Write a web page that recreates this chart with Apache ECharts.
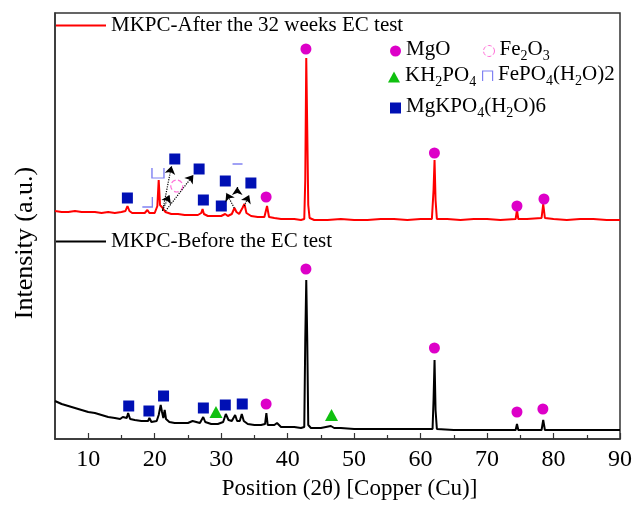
<!DOCTYPE html>
<html>
<head>
<meta charset="utf-8">
<script src="https://cdn.jsdelivr.net/npm/echarts@6/dist/echarts.min.js"></script>
<style>
  html, body { margin: 0; padding: 0; background: #fff; }
  #chart { width: 635px; height: 516px; }
</style>
</head>
<body>
<div id="chart"></div>
<script>
// XRD pattern after 32 weeks of EC testing: 2θ (deg) and intensity (a.u., stacked offset)
const afterTheta = [5, 6, 7, 8, 9, 10, 11, 12, 13, 14, 15, 15.6, 15.9, 16.2, 16.6, 17.5, 18.5, 18.9, 19.2, 20,
  20.4, 20.6, 20.8, 21, 21.2, 21.6, 22.5, 23.5, 24.5, 25.5, 26.5, 27, 27.2, 27.4, 28, 29, 30, 30.6, 31, 31.6,
  32, 32.3, 32.7, 33.2, 33.5, 33.8, 34.5, 35.5, 36.5, 36.9, 37.2, 38, 39, 40, 41, 42, 42.5, 42.65, 42.8, 42.95,
  43.1, 43.3, 44, 46, 48, 50, 52, 54, 56, 58, 60, 61.7, 61.95, 62.1, 62.25, 62.45, 64, 66, 68, 70,
  72, 74.3, 74.5, 74.7, 76, 78.2, 78.45, 78.7, 80, 82, 84, 86, 88, 90];
const afterInt = [228, 227, 227, 228, 227, 227, 227, 226, 227, 226, 227, 228, 233, 228, 226, 226, 226, 229, 226, 226,
  233, 259, 234, 236, 231, 227, 225, 225, 224, 224, 224, 226, 230, 225, 223, 223, 223, 225, 223, 225,
  231, 227, 225, 231, 235, 226, 223, 222, 222, 233, 222, 221, 220, 220, 220, 219, 220, 259, 381, 309,
  234, 221, 219, 219, 220, 219, 219, 220, 220, 219, 220, 220, 249, 279, 239, 220, 220, 219, 220, 220,
  219, 220, 229, 220, 220, 221, 235, 221, 220, 219, 220, 220, 219, 219];

// XRD pattern before EC testing
const beforeTheta = [5, 6, 7, 8, 9, 10, 11, 12, 13, 14, 14.8, 15.2, 15.5, 15.8, 16, 16.3, 17, 18, 19, 19.2,
  19.5, 20.3, 20.6, 20.9, 21.1, 21.3, 21.5, 21.7, 22.2, 23, 24, 25, 25.7, 26, 26.8, 27.3, 27.6, 28.5, 29.5, 30.3,
  30.7, 31.1, 31.6, 32.1, 32.4, 32.8, 33.1, 33.4, 33.7, 34, 35, 36, 36.6, 36.8, 37, 38, 38.4, 39, 40, 41,
  42, 42.5, 42.65, 42.8, 42.95, 43.1, 43.5, 44, 45, 46.5, 47, 48, 50, 52, 55, 58, 60, 61.8, 61.95, 62.1,
  62.25, 62.45, 65, 70, 74.3, 74.5, 74.7, 78.2, 78.45, 78.7, 82, 86, 90];
const beforeInt = [38, 35, 33, 31, 29, 27, 26, 24, 22, 21, 20, 22, 20, 21, 26, 20, 19, 18, 18, 21,
  17, 18, 24, 34, 27, 21, 29, 20, 17, 16, 16, 16, 18, 16, 16, 22, 17, 15, 15, 17,
  25, 19, 18, 24, 18, 18, 25, 18, 20, 15, 14, 14, 15, 26, 14, 14, 16, 12, 12, 12,
  11, 12, 99, 159, 99, 14, 11, 11, 11, 13, 11, 11, 10, 10, 10, 10, 10, 10, 39, 79,
  29, 10, 9, 9, 9, 15, 9, 9, 19, 9, 9, 9, 9];

// Phase identification markers: [2θ, intensity]
const mgoMarks = [[42.75, 390], [62.08, 286], [74.5, 233], [78.56, 240], [36.76, 242],
  [42.75, 170], [62.08, 91], [74.5, 27], [78.4, 30], [36.76, 35]];
const fe2o3Marks = [[23.32, 253]];
const kh2po4Marks = [[29.22, 27], [46.6, 24]];
const fepo4Marks = [[20.49, 266], [18.89, 237], [32.46, 275]];
const fepo4Shapes = ['cup', 'corner', 'dash'];
const mgkpo4Marks = [[15.89, 241], [23.02, 280], [26.68, 270], [27.32, 239], [30.62, 258], [30.02, 233], [34.47, 256],
  [16.09, 33], [19.13, 28], [21.33, 43], [27.32, 31], [30.62, 34], [33.17, 35]];

// Arrows linking overlapping reflections to their phase markers: [from, to]
const arrowLinks = [
  [[21.18, 228], [22.53, 273]],
  [[21.63, 228], [25.82, 264]],
  [[21.18, 229], [22.23, 244]],
  [[31.97, 231], [30.77, 246]],
  [[33.46, 233], [34.21, 244]],
  [[32.42, 246], [32.42, 252]]
];

const xMajorTicks = [10, 20, 30, 40, 50, 60, 70, 80, 90];
const xMinorTicks = [15, 25, 35, 45, 55, 65, 75, 85];

const FONT = 'Liberation Serif';
const C_MGO = '#dd00c8';
const C_FE2O3 = '#ff6fd8';
const C_KH = '#10c010';
const C_FEPO4 = '#8082f2';
const C_MGK = '#0010b4';

const zip = (xs, ys) => xs.map((x, i) => [x, ys[i]]);

const shapePaths = {
  cup: 'path://M0,0 L0,10 L10,10 L10,0',
  corner: 'path://M0,10 L10,10 L10,0',
  cap: 'path://M0,10 L0,0 L10,0 L10,10'
};

const richText = {
  n: { fontFamily: FONT, fontSize: 21, color: '#000', lineHeight: 24, verticalAlign: 'top' },
  s: { fontFamily: FONT, fontSize: 14, color: '#000', lineHeight: 8, verticalAlign: 'bottom' },
  big: { fontFamily: FONT, fontSize: 21, color: '#000', lineHeight: 24 }
};

const phaseLabels = {
  'MgO': '{n|MgO}',
  'Fe2O3': '{n|Fe}{s|2}{n|O}{s|3}',
  'KH2PO4': '{n|KH}{s|2}{n|PO}{s|4}',
  'FePO4(H2O)2': '{n|FePO}{s|4}{n|(H}{s|2}{n|O)2}',
  'MgKPO4(H2O)6': '{n|MgKPO}{s|4}{n|(H}{s|2}{n|O)6}'
};

function phaseLegend(name, icon, itemStyle, left, top, w, h) {
  return {
    data: [{ name: name, icon: icon, itemStyle: Object.assign({ opacity: 1 }, itemStyle) }],
    left: left, top: top, padding: 0, itemWidth: w, itemHeight: h,
    selectedMode: false,
    formatter: n => phaseLabels[n],
    textStyle: { rich: richText }
  };
}

function seriesLegend(name, left, top) {
  return {
    data: [{ name: name, icon: 'rect' }],
    left: left, top: top, padding: 0, itemWidth: 50, itemHeight: 2,
    selectedMode: false,
    formatter: n => '{big|' + n + '}',
    textStyle: { rich: richText }
  };
}

const chart = echarts.init(document.getElementById('chart'), null, { renderer: 'canvas' });

chart.setOption({
  animation: false,
  backgroundColor: '#fff',
  grid: {
    left: 55, right: 13, top: 13, bottom: 77,
    show: true, borderColor: '#333', borderWidth: 1.5, backgroundColor: 'transparent'
  },
  legend: [
    seriesLegend('MKPC-After the 32 weeks EC test', 56, 15),
    seriesLegend('MKPC-Before the EC test', 56, 231),
    phaseLegend('MgO', 'circle', { color: C_MGO }, 390, 39, 11, 11),
    phaseLegend('Fe2O3', 'circle', { color: 'transparent', borderColor: C_FE2O3, borderWidth: 1, borderType: 'dashed' }, 483, 39, 11, 11),
    phaseLegend('KH2PO4', 'triangle', { color: C_KH }, 388, 65, 12, 11),
    phaseLegend('FePO4(H2O)2', shapePaths.cap, { color: 'transparent', borderColor: C_FEPO4, borderWidth: 1.2 }, 482, 64, 11, 10),
    phaseLegend('MgKPO4(H2O)6', 'rect', { color: C_MGK }, 390, 96, 11, 11)
  ],
  xAxis: [{
    type: 'value', min: 5, max: 90,
    name: 'Position (2θ) [Copper (Cu)]',
    nameLocation: 'middle', nameGap: 38,
    nameTextStyle: { fontFamily: FONT, fontSize: 23, color: '#000', padding: [0, 0, 0, 24] },
    axisLine: { show: true, lineStyle: { color: '#333', width: 1.5 } },
    axisTick: { show: true, inside: true, length: 6, customValues: xMajorTicks, lineStyle: { color: '#333', width: 1.2 } },
    axisLabel: { customValues: xMajorTicks, fontFamily: FONT, fontSize: 24, color: '#000', margin: 9 },
    splitLine: { show: false }
  }, {
    type: 'value', min: 5, max: 90, position: 'bottom',
    axisLine: { show: false },
    axisTick: { show: true, inside: true, length: 4, customValues: xMinorTicks, lineStyle: { color: '#333', width: 1.2 } },
    axisLabel: { show: false },
    splitLine: { show: false }
  }],
  yAxis: {
    type: 'value', min: 0, max: 426,
    name: 'Intensity (a.u.)',
    nameLocation: 'middle', nameGap: 17,
    nameTextStyle: { fontFamily: FONT, fontSize: 26, color: '#000', padding: [0, 34, 0, 0] },
    axisLine: { show: true, lineStyle: { color: '#333', width: 1.5 } },
    axisTick: { show: false },
    axisLabel: { show: false },
    splitLine: { show: false }
  },
  series: [
    {
      name: 'MKPC-After the 32 weeks EC test', type: 'line', data: zip(afterTheta, afterInt),
      showSymbol: false, color: '#ff0000', lineStyle: { color: '#ff0000', width: 2 }, z: 2,
      markLine: {
        silent: true, symbol: ['none', 'arrow'], symbolSize: 8,
        label: { show: false },
        lineStyle: { type: 'dotted', color: '#000', width: 1.2 },
        data: arrowLinks.map(([a, b]) => [{ coord: a }, { coord: b }])
      }
    },
    {
      name: 'MKPC-Before the EC test', type: 'line', data: zip(beforeTheta, beforeInt),
      showSymbol: false, color: '#000000', lineStyle: { color: '#000', width: 2 }, z: 2
    },
    {
      name: 'MgO', type: 'scatter', data: mgoMarks, symbol: 'circle', symbolSize: 11,
      itemStyle: { color: C_MGO, opacity: 1 }, z: 3
    },
    {
      name: 'Fe2O3', type: 'scatter', data: fe2o3Marks, symbol: 'circle', symbolSize: 12,
      itemStyle: { color: 'transparent', borderColor: C_FE2O3, borderWidth: 1.2, borderType: 'dashed', opacity: 1 }, z: 3
    },
    {
      name: 'KH2PO4', type: 'scatter', data: kh2po4Marks, symbol: 'triangle', symbolSize: [13, 12],
      itemStyle: { color: C_KH, opacity: 1 }, z: 3
    },
    {
      name: 'FePO4(H2O)2', type: 'scatter', z: 3,
      data: fepo4Marks.map((p, i) => {
        const shape = fepo4Shapes[i];
        if (shape === 'dash') {
          return { value: p, symbol: 'rect', symbolSize: [10, 1.5], itemStyle: { color: C_FEPO4, borderWidth: 0, opacity: 1 } };
        }
        return {
          value: p, symbol: shapePaths[shape], symbolSize: shape === 'cup' ? [12, 10] : [10, 10],
          itemStyle: { color: 'transparent', borderColor: C_FEPO4, borderWidth: 1.3, opacity: 1 }
        };
      })
    },
    {
      name: 'MgKPO4(H2O)6', type: 'scatter', data: mgkpo4Marks, symbol: 'rect', symbolSize: 11,
      itemStyle: { color: C_MGK, opacity: 1 }, z: 3
    }
  ]
});
</script>
</body>
</html>
